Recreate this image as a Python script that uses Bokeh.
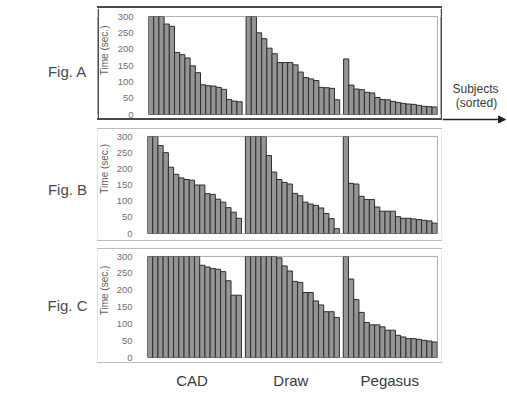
from bokeh.plotting import figure
from bokeh.layouts import column, row
from bokeh.models import (ColumnDataSource, Label, Arrow, NormalHead, FixedTicker,
                          Range1d, Spacer)
from bokeh.embed import file_html
from bokeh.resources import INLINE

# ---- data (seconds, subjects sorted) ----
groups = ["CAD", "Draw", "Pegasus"]
panels = ["Fig. A", "Fig. B", "Fig. C"]

a_cad = [300, 300, 300, 277, 270, 190, 183, 173, 149, 128, 91, 88, 87, 83, 77, 46, 41, 39]
a_draw = [300, 300, 250, 232, 203, 186, 159, 159, 159, 152, 130, 113, 109, 104, 83, 82, 80, 45]
a_peg = [170, 90, 78, 76, 68, 66, 52, 46, 45, 40, 37, 34, 32, 31, 28, 25, 24, 23]

b_cad = [300, 300, 272, 250, 205, 183, 172, 167, 165, 150, 150, 123, 121, 106, 97, 80, 66, 47]
b_draw = [300, 300, 300, 300, 241, 190, 167, 158, 153, 124, 117, 97, 91, 87, 79, 62, 46, 15]
b_peg = [300, 155, 153, 115, 105, 105, 82, 69, 69, 69, 52, 47, 47, 45, 43, 41, 39, 32]

c_cad = [300, 300, 300, 300, 300, 300, 300, 300, 300, 300, 274, 269, 264, 262, 255, 228, 185, 185]
c_draw = [300, 300, 300, 300, 300, 300, 296, 272, 257, 226, 223, 193, 193, 168, 156, 136, 136, 119]
c_peg = [300, 233, 172, 134, 104, 97, 97, 91, 81, 81, 66, 61, 56, 56, 54, 51, 49, 46]

y_ticks = [0, 50, 100, 150, 200, 250, 300]
data = [[a_cad, a_draw, a_peg], [b_cad, b_draw, b_peg], [c_cad, c_draw, c_peg]]

# ---- geometry (page pixels) ----
GAP = 0.75
FONT = "Liberation Sans"
LEFT_W, BOX_W, RIGHT_W = 97, 345, 65
TIME_W = 15
FRAME_LEFT, FRAME_RIGHT, BOX_LEFT = 144, 437, 97
X_RANGE = (-0.5, 55.05)
row_tops = [0, 123, 244]
row_h = [123, 121, 123]
box_y = [(6, 120), (128, 241), (248, 363)]        # outer box top / bottom
frame_y = [(16, 114), (136, 233), (256, 357)]     # plot frame top / bottom
box_line = [(2, "#4a4a4a"), (1, "#bdbdbd"), (1, "#bdbdbd")]
fig_label_y = [71, 189, 305]
time_label_y = [46, 166, 287]


def blank(w, h, fill="white"):
    f = figure(width=w, height=h, output_backend="svg", toolbar_location=None,
               title=None,
               x_range=Range1d(0, w), y_range=Range1d(h, 0),
               x_axis_location=None, y_axis_location=None,
               min_border=0, min_border_left=0, min_border_right=0,
               min_border_top=0, min_border_bottom=0,
               background_fill_color=fill, border_fill_color=fill)
    f.grid.visible = False
    f.outline_line_color = None
    return f


def hline(w, h, color):
    return Spacer(width=w, height=h,
                  styles={"background-color": color, "min-height": f"{h}px"})


rows = []
for k in range(3):
    bw, bcol = box_line[k]
    btop, bbot = box_y[k]
    ftop, fbot = frame_y[k]
    inner_h = bbot - btop - 2 * bw
    inner_top = btop + bw
    p_w = BOX_W - 2 * bw - TIME_W
    p_left = BOX_LEFT + bw + TIME_W
    p = figure(width=p_w, height=inner_h, output_backend="svg", toolbar_location=None,
               title=None,
               min_border_left=FRAME_LEFT - p_left,
               min_border_right=p_left + p_w - FRAME_RIGHT,
               min_border_top=ftop - inner_top,
               min_border_bottom=inner_top + inner_h - fbot,
               x_range=Range1d(*X_RANGE), y_range=Range1d(0, 300),
               x_axis_location=None,
               background_fill_color="white", border_fill_color="white")
    p.grid.visible = False
    p.outline_line_color = "#b3b3b3"
    p.outline_line_width = 1

    ax = p.yaxis[0]
    ax.ticker = FixedTicker(ticks=y_ticks)
    ax.axis_line_color = None
    ax.major_tick_line_color = None
    ax.minor_tick_line_color = None
    ax.major_tick_out = 0
    ax.major_tick_in = 0
    ax.major_label_standoff = 15
    ax.major_label_text_font = FONT
    ax.major_label_text_font_size = "9.5px"
    ax.major_label_text_color = "#707070"

    for g, vals in enumerate(data[k]):
        xs = [g * (len(vals) + GAP) + i for i in range(len(vals))]
        src = ColumnDataSource(dict(x=xs, top=vals))
        p.vbar(x="x", top="top", bottom=0, width=1.0, source=src,
               fill_color="#959595", line_color="#2e2e2e", line_width=1)

    tfig = blank(TIME_W, inner_h)
    tfig.add_layout(Label(x=104 - (BOX_LEFT + bw), y=time_label_y[k] - inner_top,
                          text="Time (sec.)", text_font=FONT, text_font_size="10px",
                          text_color="#606060", text_align="center",
                          text_baseline="middle", angle=1.5708))

    inner = row(blank(bw, inner_h, bcol), tfig, p, blank(bw, inner_h, bcol), spacing=0)
    box = column(Spacer(width=BOX_W, height=btop - row_tops[k]),
                 hline(BOX_W, bw, bcol), inner, hline(BOX_W, bw, bcol),
                 Spacer(width=BOX_W, height=row_tops[k] + row_h[k] - bbot),
                 spacing=0)

    left = blank(LEFT_W, row_h[k])
    left.add_layout(Label(x=67, y=fig_label_y[k] - row_tops[k], text=panels[k],
                          text_font=FONT, text_font_size="15px", text_color="#4a4a4a",
                          text_align="center", text_baseline="middle"))

    if k == 0:
        right = blank(RIGHT_W, row_h[k])
        right.add_layout(Label(x=33, y=88, text="Subjects", text_font=FONT,
                               text_font_size="12px", text_color="#3a3a3a",
                               text_align="center", text_baseline="middle"))
        right.add_layout(Label(x=34, y=102, text="(sorted)", text_font=FONT,
                               text_font_size="12px", text_color="#3a3a3a",
                               text_align="center", text_baseline="middle"))
        right.add_layout(Arrow(end=NormalHead(size=7, fill_color="#222222",
                                              line_color="#222222"),
                               x_start=0, y_start=119, x_end=63, y_end=119,
                               line_color="#222222", line_width=1.3))
    else:
        right = Spacer(width=RIGHT_W, height=row_h[k])
    rows.append(row(left, box, right, spacing=0))

# bottom category labels, on the same x scale as the panels
bottom = figure(width=BOX_W, height=28, output_backend="svg", toolbar_location=None,
                title=None,
                min_border_left=FRAME_LEFT - BOX_LEFT,
                min_border_right=BOX_LEFT + BOX_W - FRAME_RIGHT,
                min_border_top=0, min_border_bottom=0,
                x_range=Range1d(*X_RANGE), y_range=Range1d(28, 0),
                x_axis_location=None, y_axis_location=None,
                background_fill_color="white", border_fill_color="white")
bottom.grid.visible = False
bottom.outline_line_color = None
for g, name in enumerate(groups):
    n = len(data[2][g])
    center = g * (n + GAP) + (n - 1) / 2
    bottom.add_layout(Label(x=center, y=13, text=name, text_font=FONT,
                            text_font_size="15px", text_color="#3a3a3a",
                            text_align="center", text_baseline="middle"))
rows.append(row(Spacer(width=LEFT_W, height=28), bottom, Spacer(width=RIGHT_W, height=28),
                spacing=0))

layout = column(*rows, spacing=0)
open("out.html", "w").write(file_html(layout, INLINE))
